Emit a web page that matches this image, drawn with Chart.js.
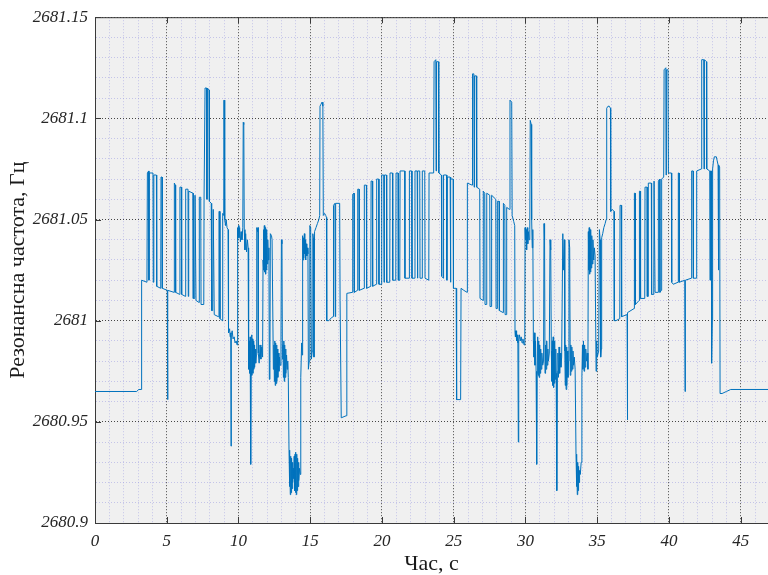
<!DOCTYPE html>
<html>
<head>
<meta charset="utf-8">
<script src="https://cdn.jsdelivr.net/npm/chart.js"></script>
<style>
  body { margin: 0; background: #fff; }
  canvas { display: block; }
</style>
</head>
<body>
<canvas id="freqChart" width="768" height="575"></canvas>
<script>
// Time (s), resonance frequency (Hz), section by section
const baselineStart = [
  [0, 2680.965], [2.9, 2680.965], [3.05, 2680.966], [3.22, 2680.966],
  [3.25, 2681.020], [3.62, 2681.019]
];

const firstTrain = [
  [3.65, 2681.073], [3.74, 2681.074], [3.76, 2681.02], [3.78, 2681.073], [4.04, 2681.073], [4.06, 2681.019],
  [4.09, 2681.019], [4.11, 2681.072], [4.28, 2681.072], [4.3, 2681.017],
  [4.58, 2681.016], [4.6, 2681.071], [4.67, 2681.071], [4.69, 2681.016],
  [5.04, 2681.015], [5.06, 2680.961], [5.08, 2681.015],
  [5.51, 2681.014], [5.53, 2681.068], [5.6, 2681.067], [5.62, 2681.014],
  [5.9, 2681.013], [5.92, 2681.066], [6.02, 2681.066], [6.04, 2681.013],
  [6.3, 2681.012], [6.32, 2681.065], [6.48, 2681.065], [6.5, 2681.012], [6.53, 2681.064], [6.83, 2681.063], [6.85, 2681.011],
  [6.95, 2681.011], [6.97, 2681.062], [7.02, 2681.062], [7.04, 2681.010],
  [7.25, 2681.009], [7.27, 2681.061], [7.37, 2681.061], [7.39, 2681.008],
  [7.58, 2681.008], [7.6, 2681.06], [7.65, 2681.06], [7.67, 2681.115], [7.78, 2681.115], [7.8, 2681.06],
  [7.83, 2681.115], [7.95, 2681.114], [7.97, 2681.059],
  [8.1, 2681.058], [8.13, 2681.005], [8.2, 2681.005], [8.24, 2681.055], [8.28, 2681.055], [8.31, 2681.003],
  [8.59, 2681.002], [8.64, 2681.054], [8.68, 2681.054], [8.71, 2681.001],
  [8.88, 2681.0], [8.9, 2681.053], [8.97, 2681.052], [8.99, 2681.109], [9.03, 2681.108], [9.05, 2681.05],
  [9.1, 2681.047], [9.14, 2681.05], [9.2, 2681.046], [9.27, 2681.045], [9.29, 2680.997]
];

const firstDip = [
  [9.32, 2680.994], [9.38, 2680.996], [9.42, 2680.992], [9.46, 2680.994], [9.48, 2680.938], [9.5, 2680.993],
  [9.56, 2680.995], [9.62, 2680.991], [9.7, 2680.992], [9.76, 2680.989], [9.84, 2680.99], [9.9, 2680.988],
  [9.92, 2681.046], [9.96, 2681.04], [10.0, 2681.047], [10.03, 2681.041], [10.08, 2681.046], [10.13, 2681.039],
  [10.18, 2681.044], [10.24, 2681.04], [10.3, 2681.046], [10.33, 2681.098], [10.37, 2681.097], [10.4, 2681.045],
  [10.45, 2681.035], [10.5, 2681.043], [10.56, 2681.034], [10.62, 2681.04], [10.67, 2681.036],
  [10.69, 2680.992], [10.72, 2680.976], [10.75, 2680.99], [10.78, 2680.974], [10.81, 2680.992], [10.85, 2680.929],
  [10.88, 2680.975], [10.91, 2680.993], [10.94, 2680.973], [10.97, 2680.991], [11.0, 2680.974], [11.03, 2680.99],
  [11.06, 2680.976], [11.09, 2680.988], [11.12, 2680.977], [11.16, 2680.986], [11.2, 2680.979], [11.25, 2680.983],
  [11.27, 2681.046], [11.33, 2681.044], [11.36, 2681.046], [11.38, 2680.984], [11.44, 2680.979], [11.5, 2680.988],
  [11.56, 2680.981], [11.62, 2680.987], [11.68, 2680.982],
  [11.71, 2681.03], [11.74, 2681.045], [11.77, 2681.025], [11.8, 2681.047], [11.83, 2681.024], [11.86, 2681.046],
  [11.89, 2681.023], [11.92, 2681.045], [11.95, 2681.025], [11.98, 2681.043], [12.01, 2681.028], [12.04, 2681.04],
  [12.08, 2681.03], [12.12, 2681.036],
  [12.15, 2680.971], [12.19, 2680.98], [12.22, 2681.043], [12.3, 2681.042], [12.34, 2681.04], [12.43, 2680.976],
  [12.47, 2680.988], [12.5, 2680.97], [12.53, 2680.99], [12.56, 2680.968], [12.59, 2680.989], [12.62, 2680.969],
  [12.65, 2680.988], [12.68, 2680.97], [12.71, 2680.986], [12.74, 2680.972], [12.78, 2680.984], [12.82, 2680.975],
  [12.86, 2680.982], [12.9, 2680.978],
  [12.96, 2680.99], [12.99, 2681.04], [13.03, 2681.038], [13.06, 2680.981], [13.1, 2680.988], [13.13, 2680.972],
  [13.16, 2680.99], [13.19, 2680.97], [13.22, 2680.988], [13.25, 2680.972], [13.28, 2680.986], [13.31, 2680.974],
  [13.35, 2680.983], [13.39, 2680.976], [13.43, 2680.98], [13.47, 2680.972],
  [13.52, 2680.936], [13.55, 2680.918], [13.58, 2680.934], [13.61, 2680.914], [13.64, 2680.933], [13.67, 2680.915],
  [13.7, 2680.932], [13.73, 2680.917], [13.76, 2680.93], [13.79, 2680.92], [13.82, 2680.927], [13.85, 2680.922],
  [13.88, 2680.933], [13.91, 2680.916], [13.94, 2680.934], [13.97, 2680.915], [14.0, 2680.935], [14.03, 2680.914],
  [14.06, 2680.934], [14.09, 2680.916], [14.12, 2680.932], [14.15, 2680.918], [14.18, 2680.93], [14.21, 2680.921],
  [14.25, 2680.927], [14.3, 2680.924],
  [14.34, 2680.972], [14.4, 2680.989], [14.44, 2680.983], [14.47, 2681.042], [14.5, 2681.03], [14.53, 2681.041],
  [14.56, 2681.031], [14.59, 2681.043], [14.62, 2681.033], [14.65, 2681.04], [14.68, 2681.03], [14.72, 2681.038],
  [14.76, 2681.032], [14.8, 2681.036], [14.84, 2681.033],
  [14.87, 2680.976], [14.93, 2680.98], [14.97, 2681.047], [15.03, 2681.046], [15.08, 2680.981], [15.14, 2680.985],
  [15.18, 2681.043], [15.22, 2681.041], [15.26, 2680.982], [15.3, 2681.044], [15.4, 2681.046], [15.5, 2681.048],
  [15.6, 2681.05], [15.66, 2681.052],
  [15.68, 2681.106], [15.75, 2681.107], [15.82, 2681.108], [15.88, 2681.106], [15.91, 2681.052], [16.0, 2681.053],
  [16.08, 2681.052], [16.13, 2681.051],
  [16.15, 2681.0], [16.3, 2681.0], [16.48, 2681.0015], [16.6, 2681.002], [16.62, 2681.057], [16.72, 2681.058],
  [16.74, 2681.002], [16.77, 2681.058], [17.05, 2681.058], [17.08, 2681.01], [17.13, 2681.01], [17.16, 2680.952],
  [17.5, 2680.953], [17.55, 2681.0135]
];

const archTrain = [
  [17.94, 2681.014], [17.96, 2681.0625], [18.05, 2681.063], [18.07, 2681.014],
  [18.29, 2681.015], [18.31, 2681.065], [18.4, 2681.065], [18.42, 2681.015],
  [18.75, 2681.016], [18.77, 2681.067], [18.91, 2681.067], [18.93, 2681.016],
  [19.22, 2681.017], [19.24, 2681.069], [19.33, 2681.069], [19.35, 2681.017],
  [19.61, 2681.018], [19.63, 2681.07], [19.77, 2681.07], [19.79, 2681.018],
  [19.96, 2681.018], [19.98, 2681.072], [20.12, 2681.072], [20.14, 2681.019], [20.17, 2681.072], [20.31, 2681.072], [20.33, 2681.019],
  [20.54, 2681.019], [20.56, 2681.073], [20.73, 2681.073], [20.75, 2681.02],
  [20.96, 2681.02], [20.98, 2681.073], [21.12, 2681.073], [21.14, 2681.02],
  [21.24, 2681.02], [21.26, 2681.074], [21.58, 2681.074], [21.6, 2681.021],
  [21.89, 2681.021], [21.91, 2681.074], [22.07, 2681.074], [22.09, 2681.021],
  [22.28, 2681.021], [22.3, 2681.074], [22.45, 2681.074], [22.47, 2681.021], [22.5, 2681.074], [22.63, 2681.074], [22.65, 2681.021],
  [22.79, 2681.021], [22.81, 2681.074], [22.98, 2681.074], [23.0, 2681.021],
  [23.26, 2681.02], [23.28, 2681.073], [23.6, 2681.073], [23.63, 2681.128], [23.75, 2681.129], [23.77, 2681.074],
  [23.8, 2681.128], [23.93, 2681.128], [23.96, 2681.073], [24.14, 2681.072], [24.16, 2681.022], [24.27, 2681.021],
  [24.29, 2681.072], [24.5, 2681.072], [24.52, 2681.02], [24.55, 2681.071], [24.75, 2681.071], [24.77, 2681.019],
  [24.8, 2681.07], [24.96, 2681.07], [24.98, 2681.016],
  [25.17, 2681.016], [25.2, 2680.961], [25.48, 2680.961], [25.51, 2681.016], [25.7, 2681.015], [25.93, 2681.014],
  [25.95, 2681.068], [26.28, 2681.067], [26.31, 2681.122], [26.4, 2681.122], [26.42, 2681.066], [26.45, 2681.121],
  [26.57, 2681.121], [26.6, 2681.066], [26.81, 2681.065], [26.83, 2681.011],
  [27.04, 2681.01], [27.06, 2681.064], [27.16, 2681.063], [27.18, 2681.008],
  [27.28, 2681.008], [27.3, 2681.063], [27.51, 2681.062], [27.53, 2681.007],
  [27.62, 2681.007], [27.64, 2681.062], [27.93, 2681.06], [27.95, 2681.006],
  [28.02, 2681.006], [28.04, 2681.059], [28.16, 2681.059], [28.18, 2681.005],
  [28.44, 2681.004], [28.46, 2681.058], [28.56, 2681.057], [28.58, 2681.003],
  [28.67, 2681.003], [28.69, 2681.056], [28.88, 2681.055], [28.92, 2681.109], [29.04, 2681.108], [29.07, 2681.052],
  [29.18, 2681.049], [29.25, 2681.047], [29.27, 2680.995]
];

const secondDip = [
  [29.3, 2680.992], [29.34, 2680.995], [29.38, 2680.99], [29.42, 2680.993], [29.47, 2680.989], [29.5, 2680.94],
  [29.53, 2680.99], [29.58, 2680.993], [29.64, 2680.99], [29.7, 2680.992], [29.76, 2680.989], [29.82, 2680.991],
  [29.9, 2680.988], [29.95, 2680.99],
  [29.97, 2681.046], [30.0, 2681.04], [30.04, 2681.045], [30.08, 2681.035], [30.12, 2681.046], [30.16, 2681.038],
  [30.2, 2681.044], [30.25, 2681.04], [30.3, 2681.045], [30.33, 2681.099], [30.4, 2681.097], [30.43, 2681.05],
  [30.47, 2681.036], [30.51, 2681.045], [30.55, 2680.99],
  [30.59, 2680.982], [30.62, 2680.994], [30.66, 2680.978], [30.7, 2680.99], [30.74, 2680.975], [30.78, 2680.929],
  [30.81, 2680.974], [30.85, 2680.992], [30.88, 2680.973], [30.92, 2680.99], [30.95, 2680.972], [30.99, 2680.988],
  [31.02, 2680.974], [31.06, 2680.986], [31.1, 2680.976], [31.14, 2680.984], [31.2, 2680.978], [31.26, 2680.98],
  [31.29, 2681.048], [31.33, 2681.04], [31.36, 2680.974], [31.4, 2680.988], [31.44, 2680.976], [31.48, 2680.99],
  [31.52, 2680.978], [31.56, 2680.986], [31.6, 2680.98], [31.66, 2680.984],
  [31.71, 2681.04], [31.76, 2681.035], [31.8, 2680.985], [31.84, 2680.97], [31.87, 2680.99], [31.9, 2680.968],
  [31.93, 2680.992], [31.96, 2680.967], [31.99, 2680.99], [32.02, 2680.969], [32.05, 2680.988], [32.08, 2680.971],
  [32.11, 2680.986], [32.14, 2680.974], [32.18, 2680.916], [32.22, 2680.975], [32.26, 2680.984], [32.3, 2680.972],
  [32.34, 2680.987], [32.38, 2680.974], [32.42, 2680.984], [32.47, 2680.977], [32.52, 2680.982],
  [32.6, 2681.043], [32.65, 2681.025], [32.71, 2681.04], [32.74, 2680.985], [32.77, 2680.968], [32.8, 2680.988],
  [32.83, 2680.966], [32.86, 2680.987], [32.89, 2680.968], [32.92, 2680.985], [32.96, 2680.972], [33.0, 2680.98],
  [33.03, 2681.04], [33.08, 2681.036], [33.12, 2680.973], [33.16, 2680.988], [33.19, 2680.975], [33.23, 2680.987],
  [33.27, 2680.976], [33.31, 2680.985], [33.35, 2680.978], [33.4, 2680.982], [33.46, 2680.976],
  [33.52, 2680.934], [33.55, 2680.918], [33.58, 2680.932], [33.61, 2680.914], [33.64, 2680.93], [33.67, 2680.916],
  [33.7, 2680.928], [33.73, 2680.92], [33.77, 2680.926], [33.82, 2680.924], [33.88, 2680.93],
  [33.93, 2680.972], [33.97, 2680.988], [34.0, 2680.976], [34.04, 2680.99], [34.08, 2680.975], [34.12, 2680.988],
  [34.16, 2680.977], [34.2, 2680.986], [34.25, 2680.98], [34.3, 2680.984], [34.35, 2680.976],
  [34.38, 2681.044], [34.41, 2681.025], [34.44, 2681.046], [34.47, 2681.023], [34.5, 2681.045], [34.53, 2681.024],
  [34.56, 2681.044], [34.59, 2681.026], [34.62, 2681.042], [34.66, 2681.028], [34.7, 2681.04], [34.75, 2681.03],
  [34.8, 2681.036], [34.85, 2681.032],
  [34.92, 2680.975], [34.96, 2680.99], [35.0, 2680.982], [35.1, 2680.985], [35.15, 2681.045], [35.2, 2681.04],
  [35.24, 2680.982], [35.28, 2680.986], [35.31, 2681.041], [35.38, 2681.043], [35.46, 2681.046], [35.55, 2681.048],
  [35.62, 2681.05],
  [35.66, 2681.105], [35.75, 2681.106], [35.84, 2681.106], [35.92, 2681.105], [35.94, 2681.054], [36.05, 2681.055],
  [36.17, 2681.054], [36.19, 2681.0]
];

const lastTrain = [
  [36.3, 2681.0], [36.57, 2681.001], [36.59, 2681.057], [36.68, 2681.057], [36.7, 2681.002],
  [37.08, 2681.003], [37.1, 2680.951], [37.12, 2681.004], [37.57, 2681.006], [37.59, 2681.063], [37.64, 2681.063],
  [37.66, 2681.008], [37.92, 2681.01], [37.94, 2681.064], [38.0, 2681.064], [38.02, 2681.011],
  [38.31, 2681.011], [38.33, 2681.066], [38.47, 2681.066], [38.49, 2681.012],
  [38.54, 2681.012], [38.56, 2681.068], [38.77, 2681.068], [38.79, 2681.013],
  [38.94, 2681.013], [38.96, 2681.069], [39.01, 2681.069], [39.03, 2681.014],
  [39.24, 2681.014], [39.26, 2681.069], [39.35, 2681.07], [39.37, 2681.014],
  [39.47, 2681.015], [39.49, 2681.07], [39.63, 2681.071], [39.66, 2681.124], [39.78, 2681.125], [39.8, 2681.072],
  [39.82, 2681.124], [39.93, 2681.124], [39.96, 2681.073], [40.17, 2681.073], [40.19, 2681.019],
  [40.3, 2681.018], [40.63, 2681.019], [40.65, 2681.073], [40.7, 2681.073], [40.72, 2681.019],
  [41.1, 2681.02], [41.12, 2680.965], [41.14, 2681.02], [41.56, 2681.021], [41.58, 2681.074], [41.68, 2681.074],
  [41.7, 2681.021], [41.91, 2681.021], [41.93, 2681.074], [42.26, 2681.075], [42.28, 2681.129], [42.42, 2681.129],
  [42.44, 2681.075], [42.47, 2681.129], [42.61, 2681.128], [42.63, 2681.075], [42.84, 2681.074], [42.86, 2681.02],
  [42.89, 2681.074], [42.95, 2681.074], [42.97, 2680.979], [43.02, 2681.0], [43.04, 2681.075], [43.1, 2681.079],
  [43.16, 2681.081], [43.3, 2681.081], [43.36, 2681.079], [43.42, 2681.077], [43.44, 2681.025], [43.47, 2681.077],
  [43.53, 2681.076], [43.56, 2680.964]
];

const baselineEnd = [
  [43.7, 2680.964], [44.0, 2680.965], [44.3, 2680.966], [46.9, 2680.966]
];

// Axis settings
const xMin = 0, xMax = 46.9, xLabelEvery = 5;
const yMin = 2680.9, yMax = 2681.15;
const xTitle = "Час, с";
const yTitle = "Резонансна частота, Гц";

const points = [].concat(baselineStart, firstTrain, firstDip, archTrain, secondDip, lastTrain, baselineEnd)
  .map(([t, f]) => ({ x: t, y: f }));

const isMajorX = (v) => Math.abs(v / xLabelEvery - Math.round(v / xLabelEvery)) < 1e-6;
const isMajorY = (v) => Math.round(v * 100) % 5 === 0;

const MAJOR = "rgba(40,40,40,0.85)";
const MINOR = "rgba(160,160,225,0.55)";
const AXIS = "#3a3a3a";

// Plot background, top border and inward tick marks (MATLAB look)
const axesBox = {
  id: "axesBox",
  beforeDraw(chart) {
    const { ctx, chartArea: a } = chart;
    ctx.save();
    ctx.fillStyle = "#f0f0f0";
    ctx.fillRect(a.left, a.top, a.right - a.left, a.bottom - a.top);
    ctx.restore();
  },
  afterDraw(chart) {
    const { ctx, chartArea: a, scales } = chart;
    ctx.save();
    ctx.strokeStyle = AXIS;
    ctx.lineWidth = 1;
    ctx.beginPath();
    ctx.moveTo(a.left, a.top + 0.5);
    ctx.lineTo(a.right, a.top + 0.5);
    scales.x.ticks.forEach((tk) => {
      if (!isMajorX(tk.value)) return;
      const px = Math.round(scales.x.getPixelForValue(tk.value)) + 0.5;
      ctx.moveTo(px, a.bottom);
      ctx.lineTo(px, a.bottom - 6);
      ctx.moveTo(px, a.top);
      ctx.lineTo(px, a.top + 6);
    });
    scales.y.ticks.forEach((tk) => {
      if (!isMajorY(tk.value)) return;
      const py = Math.round(scales.y.getPixelForValue(tk.value)) + 0.5;
      ctx.moveTo(a.left, py);
      ctx.lineTo(a.left + 6, py);
    });
    ctx.stroke();
    ctx.restore();
  }
};

const tickFont = { family: "'Liberation Serif', serif", size: 17, style: "italic" };
const titleFont = { family: "'Liberation Serif', serif", size: 22, lineHeight: 1.0 };

new Chart(document.getElementById("freqChart"), {
  type: "line",
  data: {
    datasets: [{
      data: points,
      borderColor: "#0072BD",
      borderWidth: 1,
      pointRadius: 0,
      tension: 0,
      fill: false
    }]
  },
  options: {
    responsive: false,
    animation: false,
    layout: { padding: { top: 17, right: 0, left: 7, bottom: 0 } },
    plugins: { legend: { display: false }, tooltip: { enabled: false } },
    scales: {
      x: {
        type: "linear",
        min: xMin,
        max: xMax,
        afterFit: (s) => { s.height = 52; },
        ticks: {
          stepSize: 1,
          autoSkip: false,
          includeBounds: false,
          maxRotation: 0,
          padding: 8,
          color: "#262626",
          font: tickFont,
          callback: (v) => (isMajorX(v) ? String(v) : "")
        },
        grid: {
          drawTicks: false,
          color: (c) => (isMajorX(c.tick.value) ? MAJOR : MINOR),
          lineWidth: 1
        },
        border: { color: AXIS, width: 1, dash: [1, 2] },
        title: { display: true, text: xTitle, color: "#1a1a1a", font: titleFont, padding: { top: 0, bottom: 0 } }
      },
      y: {
        min: yMin,
        max: yMax,
        afterFit: (s) => { s.width = 88; },
        ticks: {
          stepSize: 0.01,
          autoSkip: false,
          includeBounds: false,
          padding: 7,
          color: "#262626",
          font: tickFont,
          callback: (v) => (isMajorY(v) ? String(Number(v.toFixed(2))) : "")
        },
        grid: {
          drawTicks: false,
          color: (c) => (isMajorY(c.tick.value) ? MAJOR : MINOR),
          lineWidth: 1
        },
        border: { color: AXIS, width: 1, dash: [1, 2] },
        title: { display: true, text: yTitle, color: "#1a1a1a", font: titleFont, padding: { top: 0, bottom: 0 } }
      }
    }
  },
  plugins: [axesBox]
});
</script>
</body>
</html>
